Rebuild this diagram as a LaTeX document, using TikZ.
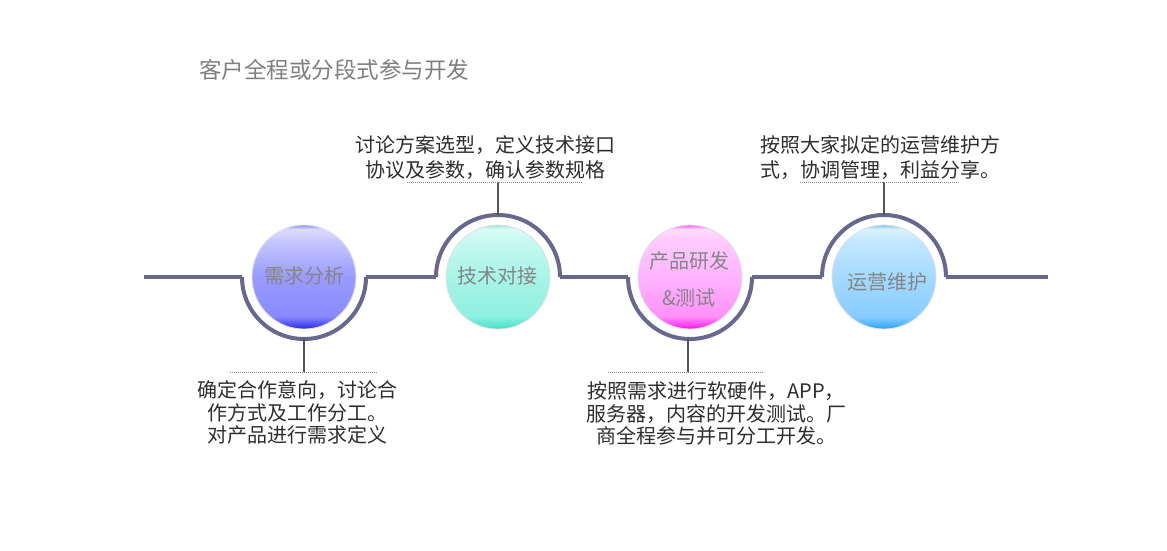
\documentclass[tikz,border=0pt]{standalone}
\usepackage{fontspec}
\setmainfont{Noto Sans CJK SC}
\definecolor{trackc}{HTML}{68688F}
\definecolor{leadc}{HTML}{555555}
\definecolor{dotc}{HTML}{8A8A8A}
\definecolor{lblgray}{HTML}{858585}
\definecolor{titlegray}{HTML}{7F7F7F}
\definecolor{desccol}{HTML}{2E2E2E}
% ball 1 (blue-violet)
\definecolor{aA}{HTML}{2A2AE6}\definecolor{aB}{HTML}{4848F5}\definecolor{aC}{HTML}{8A8AFF}
\definecolor{aD}{HTML}{9A9AFF}\definecolor{aE}{HTML}{C8C8FF}\definecolor{aF}{HTML}{DCDCFF}\definecolor{aG}{HTML}{9090F0}
% ball 2 (aqua)
\definecolor{bA}{HTML}{3ADCC4}\definecolor{bB}{HTML}{5BE6D0}\definecolor{bC}{HTML}{8EF0E0}
\definecolor{bD}{HTML}{A8F4E8}\definecolor{bE}{HTML}{C8F9F0}\definecolor{bF}{HTML}{DCFBF6}\definecolor{bG}{HTML}{A0E8DC}
% ball 3 (magenta)
\definecolor{cA}{HTML}{FF10E8}\definecolor{cB}{HTML}{FF40F0}\definecolor{cC}{HTML}{FF90FA}
\definecolor{cD}{HTML}{FFB4FF}\definecolor{cE}{HTML}{FFCCFF}\definecolor{cF}{HTML}{FFDCFF}\definecolor{cG}{HTML}{FF60F0}
% ball 4 (sky blue)
\definecolor{dA}{HTML}{20A0FF}\definecolor{dB}{HTML}{48B4FF}\definecolor{dC}{HTML}{88CCFF}
\definecolor{dD}{HTML}{A4DAFF}\definecolor{dE}{HTML}{C4E8FF}\definecolor{dF}{HTML}{DCF2FF}\definecolor{dG}{HTML}{80C8F0}
\pgfdeclareverticalshading{ballA}{100bp}{color(0bp)=(aA); color(25bp)=(aA); color(27bp)=(aB); color(31bp)=(aC); color(50bp)=(aD); color(68bp)=(aE); color(73bp)=(aF); color(75bp)=(aG); color(100bp)=(aG)}
\pgfdeclareverticalshading{ballB}{100bp}{color(0bp)=(bA); color(25bp)=(bA); color(27bp)=(bB); color(31bp)=(bC); color(50bp)=(bD); color(68bp)=(bE); color(73bp)=(bF); color(75bp)=(bG); color(100bp)=(bG)}
\pgfdeclareverticalshading{ballC}{100bp}{color(0bp)=(cA); color(25bp)=(cA); color(27bp)=(cB); color(31bp)=(cC); color(50bp)=(cD); color(68bp)=(cE); color(73bp)=(cF); color(75bp)=(cG); color(100bp)=(cG)}
\pgfdeclareverticalshading{ballD}{100bp}{color(0bp)=(dA); color(25bp)=(dA); color(27bp)=(dB); color(31bp)=(dC); color(50bp)=(dD); color(68bp)=(dE); color(73bp)=(dF); color(75bp)=(dG); color(100bp)=(dG)}
\begin{document}
\begin{tikzpicture}[x=1pt,y=1pt,
  track/.style={draw=trackc, line width=4pt},
  ball/.style={circle, minimum size=104pt, inner sep=0pt, draw=black!12, line width=0.8pt, shade, shading=#1},
  lbl/.style={text=lblgray, font=\fontsize{20}{24}\selectfont, inner sep=0pt},
  desc/.style={text=desccol, align=center, inner sep=0pt, anchor=base},
  leader/.style={draw=leadc, line width=1.3pt},
  dots/.style={draw=dotc, line width=1pt, dash pattern=on 1pt off 1pt}]
\useasboundingbox[fill=white] (0,0) rectangle (1167,-550);

% title
\node[anchor=west, text=titlegray, font=\fontsize{22.5}{26}\selectfont, inner sep=0pt] (title) at (199,-70) {客户全程或分段式参与开发};

% track coordinates
\coordinate (s) at (144,-277);
\coordinate (e) at (1048,-277);
\coordinate (a1l) at (242,-277); \coordinate (a1r) at (366,-277);
\coordinate (a2l) at (436,-277); \coordinate (a2r) at (560,-277);
\coordinate (a3l) at (628,-277); \coordinate (a3r) at (752,-277);
\coordinate (a4l) at (822,-277); \coordinate (a4r) at (946,-277);

\draw[track] (s) -- (a1l);
\draw[track] (a1l) arc[start angle=180, end angle=360, radius=62];
\draw[track] (a1r) -- (a2l);
\draw[track] (a2l) arc[start angle=180, end angle=0, radius=62];
\draw[track] (a2r) -- (a3l);
\draw[track] (a3l) arc[start angle=180, end angle=360, radius=62];
\draw[track] (a3r) -- (a4l);
\draw[track] (a4l) arc[start angle=180, end angle=0, radius=62];
\draw[track] (a4r) -- (e);

% balls
\node[ball=ballA] (c1) at (304,-277) {};
\node[ball=ballB] (c2) at (498,-277) {};
\node[ball=ballC] (c3) at (690,-277) {};
\node[ball=ballD] (c4) at (884,-277) {};

\node[lbl] (l1) at (304,-276) {需求分析};
\node[lbl] (l2) at (497,-276) {技术对接};
\node[lbl, align=center, font=\fontsize{20}{37}\selectfont] (l3) at (689,-279) {产品研发\\\&测试};
\node[lbl] (l4) at (887,-282) {运营维护};

% leaders
\coordinate (t1) at (304,-339); \coordinate (d1) at (304,-372);
\coordinate (t2) at (498,-215); \coordinate (d2) at (498,-182);
\coordinate (t3) at (688,-339); \coordinate (d3) at (688,-372);
\coordinate (t4) at (884,-215); \coordinate (d4) at (884,-182);
\draw[leader] (t1) -- (d1);
\draw[leader] (t2) -- (d2);
\draw[leader] (t3) -- (d3);
\draw[leader] (t4) -- (d4);

\coordinate (u1a) at (230,-372); \coordinate (u1b) at (377,-372);
\coordinate (u2a) at (407,-182); \coordinate (u2b) at (582,-182);
\coordinate (u3a) at (608,-372); \coordinate (u3b) at (763,-372);
\coordinate (u4a) at (800,-182); \coordinate (u4b) at (960,-182);
\draw[dots] (u1a) -- (u1b);
\draw[dots] (u2a) -- (u2b);
\draw[dots] (u3a) -- (u3b);
\draw[dots] (u4a) -- (u4b);

% descriptions (anchor = baseline of the last line)
\node[desc, font=\fontsize{20}{22.5}\selectfont] (x1) at (297,-442.5) {确定合作意向，讨论合\\作方式及工作分工。\\对产品进行需求定义};
\node[desc, font=\fontsize{20}{25}\selectfont] (x2) at (485,-177.5) {讨论方案选型，定义技术接口\\协议及参数，确认参数规格};
\node[desc, font=\fontsize{20}{22.5}\selectfont] (x3) at (716,-443.5) {按照需求进行软硬件，APP，\\服务器，内容的开发测试。厂\\商全程参与并可分工开发。};
\node[desc, align=left, font=\fontsize{20}{25}\selectfont, anchor=base west] (x4) at (760,-177.5) {按照大家拟定的运营维护方\\式，协调管理，利益分享。};
\end{tikzpicture}
\end{document}
